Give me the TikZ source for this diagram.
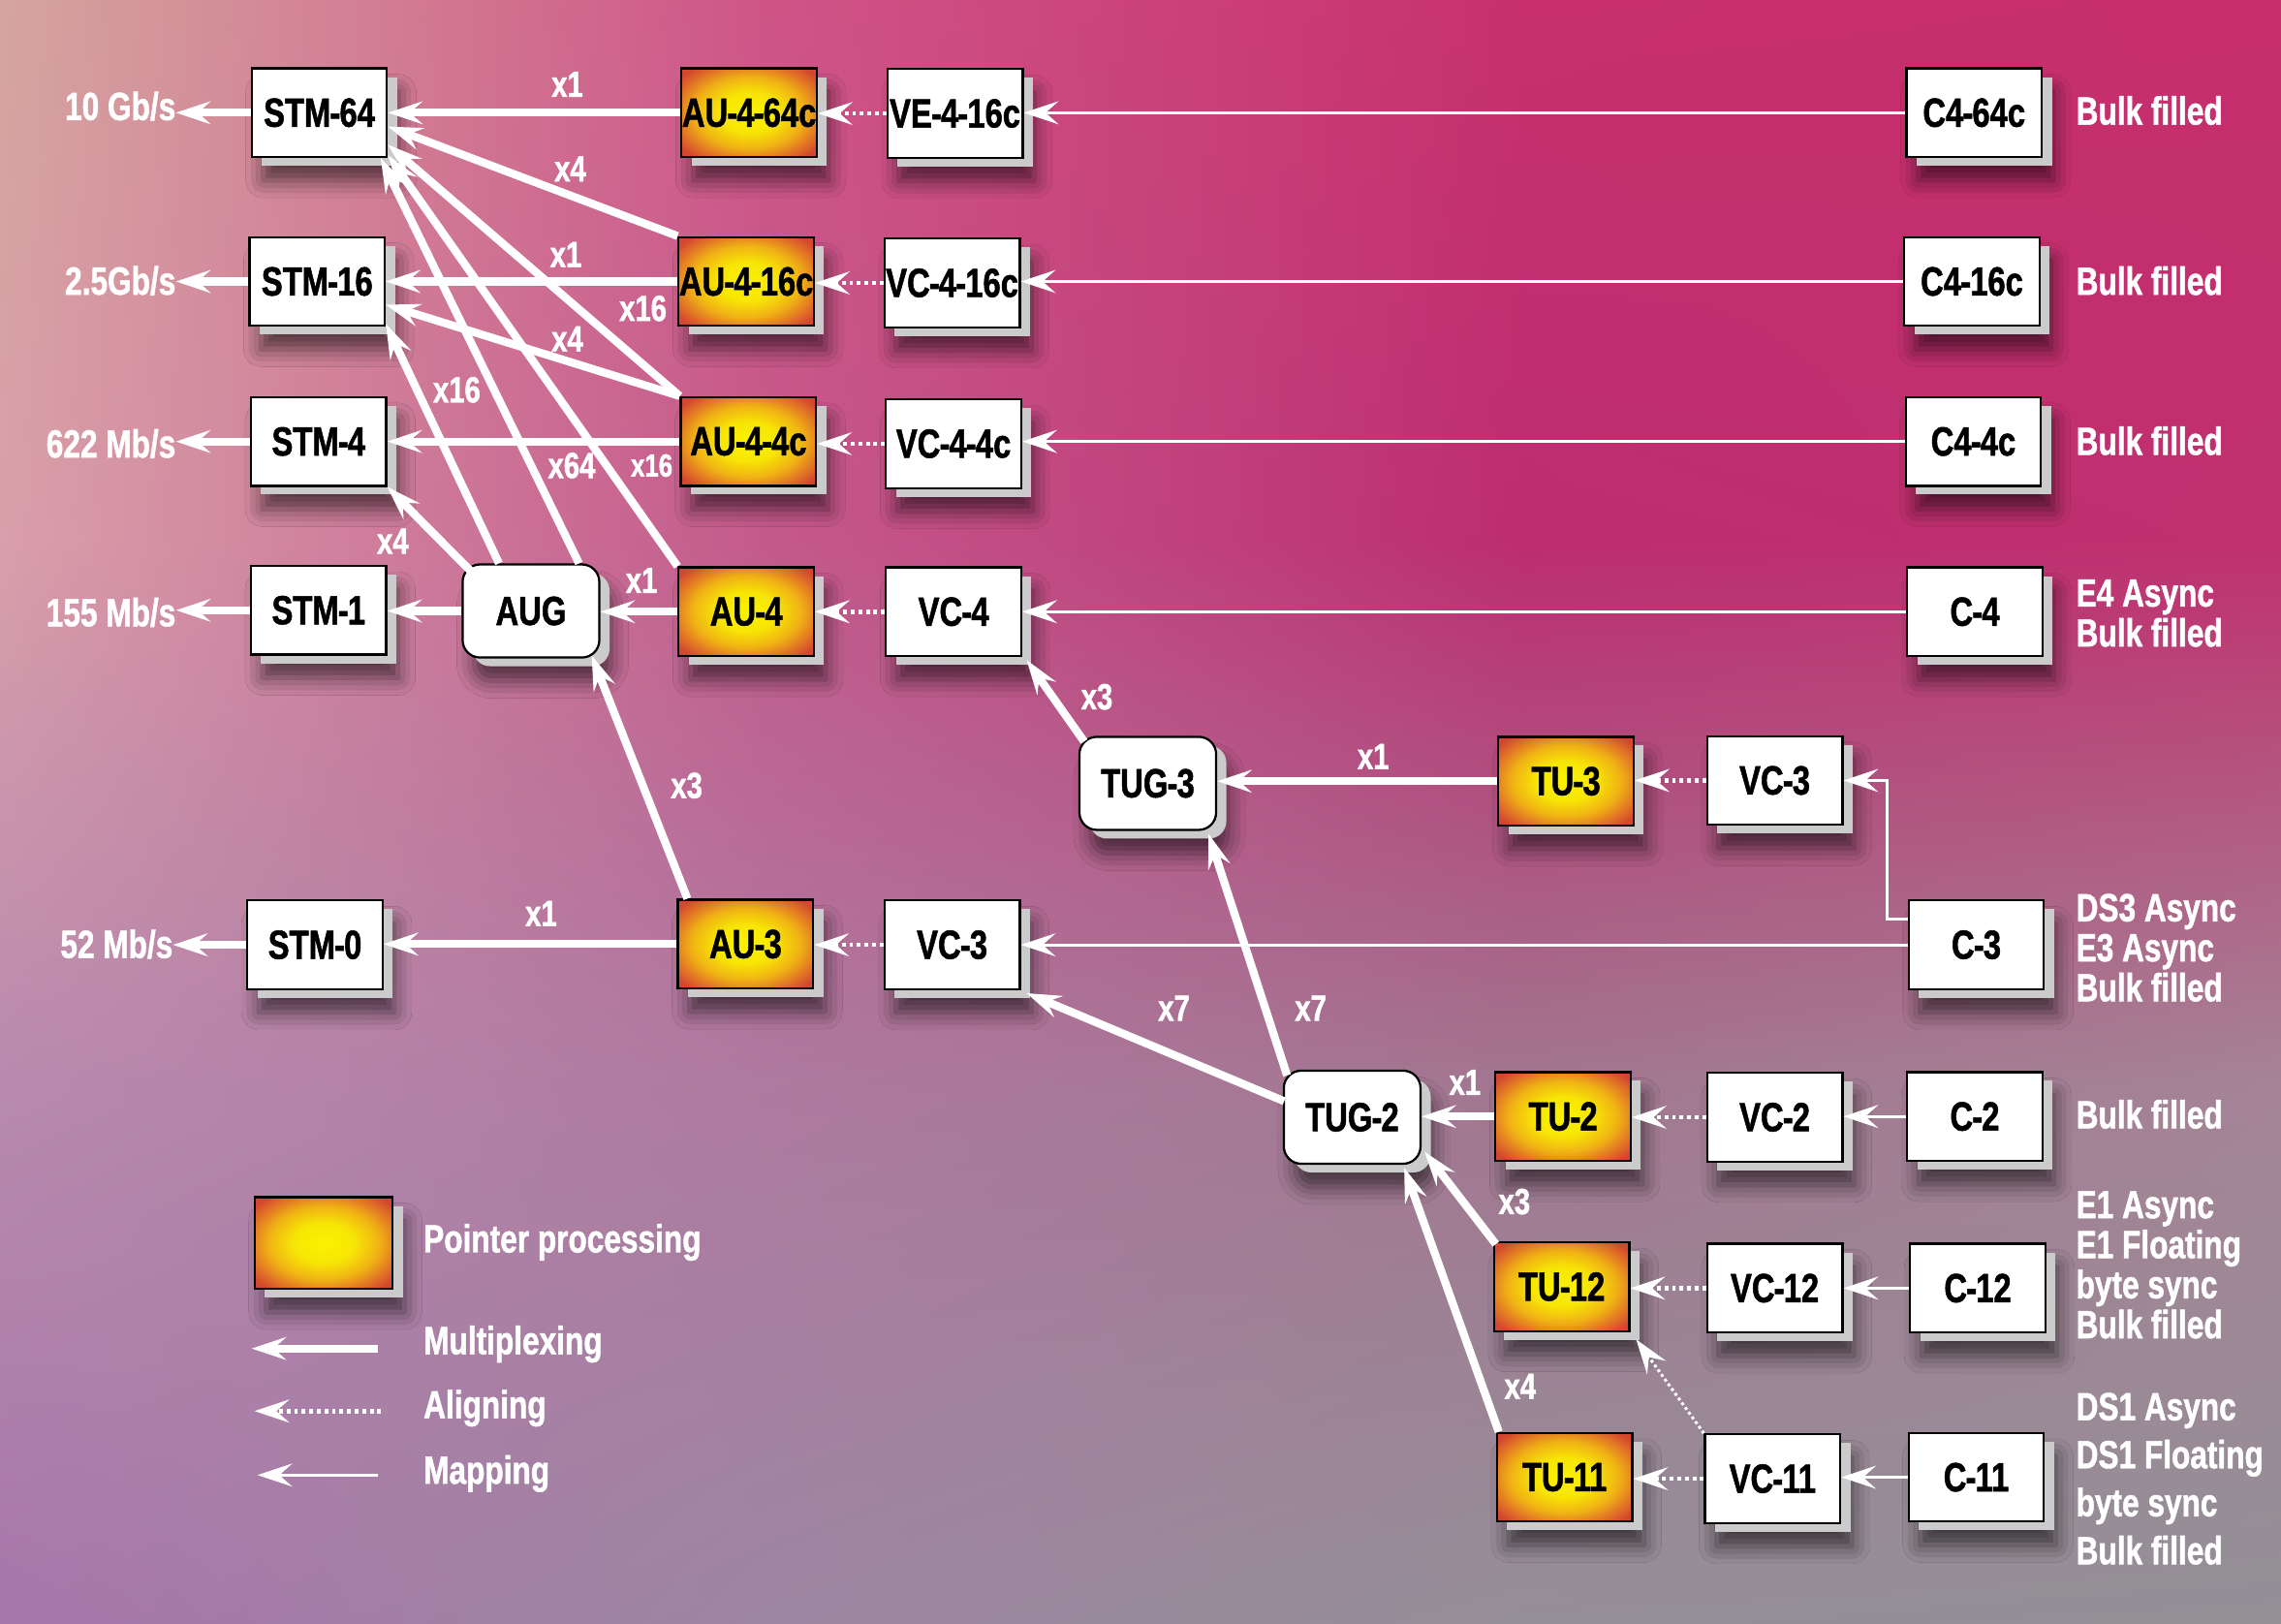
\documentclass[tikz,border=0pt]{standalone}
\usepackage{fontspec}
\newfontfamily\cond[FakeStretch=0.78,BoldFeatures={FakeBold=1.2}]{Liberation Sans}
\usetikzlibrary{arrows.meta,calc,shadings,shadows,shadows.blur}
\newcommand\bxf{\cond\bfseries\fontsize{28}{30}\selectfont}
\newcommand\lblf{\cond\bfseries\fontsize{27}{27.5}\selectfont}
\newcommand\lblwf{\cond\bfseries\fontsize{27}{33}\selectfont}
\newcommand\mulf{\cond\bfseries\fontsize{25}{27}\selectfont}
\newcommand\mulsf{\cond\bfseries\fontsize{22}{24}\selectfont}
\newcommand\hy{\kern-0.6pt-\kern-0.6pt}
\definecolor{shgray}{HTML}{CBCBCB}
\definecolor{ca0}{HTML}{D5A59E}\definecolor{cb0}{HTML}{CF5587}\definecolor{cc0}{HTML}{C8306E}\definecolor{cd0}{HTML}{C62E6C}
\definecolor{ca1}{HTML}{D99FAA}\definecolor{cb1}{HTML}{C45A8C}\definecolor{cc1}{HTML}{BC2D70}\definecolor{cd1}{HTML}{C0306F}
\definecolor{ca2}{HTML}{B98AAE}\definecolor{cb2}{HTML}{AE7A9F}\definecolor{cc2}{HTML}{A27690}\definecolor{cd2}{HTML}{A58496}
\definecolor{ca3}{HTML}{A776AA}\definecolor{cb3}{HTML}{9D86A2}\definecolor{cc3}{HTML}{958F98}\definecolor{cd3}{HTML}{939096}
\pgfdeclareradialshading{ptrshade}{\pgfpointorigin}{rgb(0bp)=(0.98,0.95,0.0); rgb(11bp)=(0.97,0.90,0.02); rgb(20bp)=(0.94,0.70,0.08); rgb(27bp)=(0.88,0.45,0.15); rgb(32bp)=(0.83,0.28,0.18); rgb(50bp)=(0.82,0.25,0.18)}
\newcommand\bgcell[8]{\shade[upper left=#5,upper right=#6,lower left=#7,lower right=#8] (#1-0.6,#2-0.6) rectangle (#3+0.6,#4+0.6);}
\tikzset{
  shad/.style={blur shadow={shadow xshift=8pt,shadow yshift=-16pt,shadow blur radius=12pt,shadow opacity=60},
               drop shadow={shadow xshift=7pt,shadow yshift=-6pt,fill=shgray,opacity=1}},
  box/.style={shad, draw=black, line width=1.5pt, fill=white, minimum width=93pt, minimum height=61pt, inner sep=0pt, font=\bxf, text=black},
  ptr/.style={shad, draw=black, line width=1.5pt, shade, shading=ptrshade, minimum width=93pt, minimum height=61pt, inner sep=0pt, font=\bxf, text=black},
  rbox/.style={box, rounded corners=12pt, minimum width=94pt, minimum height=64pt},
  mux/.style={draw=white, line width=5.5pt, ->},
  mapx/.style={draw=white, line width=2pt, ->},
  alg/.style={draw=white, line width=3pt, dash pattern=on 2.6pt off 2.6pt, ->},
  algthin/.style={draw=white, line width=2pt, dash pattern=on 2pt off 2pt, ->},
  mult/.style={text=white, font=\mulf, inner sep=0pt},
  mults/.style={text=white, font=\mulsf, inner sep=0pt},
  lbl/.style={text=white, font=\lblf, inner sep=0pt, align=left, anchor=west},
  rate/.style={text=white, font=\lblf, inner sep=0pt, anchor=east}
}
\begin{document}
\begin{tikzpicture}[x=1pt,y=-1pt,>={Stealth[length=24pt,width=16pt,inset=9pt,line width=0pt]}]
\useasboundingbox (0,0) rectangle (1568,1116);
% background
\bgcell{0}{0}{523}{372}{ca0}{cb0}{ca1}{cb1}
\bgcell{523}{0}{1045}{372}{cb0}{cc0}{cb1}{cc1}
\bgcell{1045}{0}{1568}{372}{cc0}{cd0}{cc1}{cd1}
\bgcell{0}{372}{523}{744}{ca1}{cb1}{ca2}{cb2}
\bgcell{523}{372}{1045}{744}{cb1}{cc1}{cb2}{cc2}
\bgcell{1045}{372}{1568}{744}{cc1}{cd1}{cc2}{cd2}
\bgcell{0}{744}{523}{1116}{ca2}{cb2}{ca3}{cb3}
\bgcell{523}{744}{1045}{1116}{cb2}{cc2}{cb3}{cc3}
\bgcell{1045}{744}{1568}{1116}{cc2}{cd2}{cc3}{cd3}

% STM column
\node[box] (stm64) at (219.5,77.5) {STM\hy64};
\node[box] (stm16) at (218,193.5) {STM\hy16};
\node[box] (stm4) at (219,303.5) {STM\hy4};
\node[box] (stm1) at (219,419.5) {STM\hy1};
\node[box] (stm0) at (216.5,649.5) {STM\hy0};
\node[rbox] (aug) at (365,420) {AUG};
% AU column
\node[ptr] (au464) at (515,77.5) {AU\hy4\hy64c};
\node[ptr] (au416) at (513,193.5) {AU\hy4\hy16c};
\node[ptr] (au44) at (514.5,303.5) {AU\hy4\hy4c};
\node[ptr] (au4) at (513,420.5) {AU\hy4};
\node[ptr] (au3) at (512.5,649) {AU\hy3};
% VC column
\node[box] (ve416) at (656.5,78) {VE\hy4\hy16c};
\node[box] (vc416) at (654.5,194.5) {VC\hy4\hy16c};
\node[box] (vc44) at (655.5,305) {VC\hy4\hy4c};
\node[box] (vc4) at (655.5,420.5) {VC\hy4};
\node[box] (vc3b) at (654.5,649.5) {VC\hy3};
% TUG / TU
\node[rbox] (tug3) at (789,538.5) {TUG\hy3};
\node[ptr] (tu3) at (1076.5,537) {TU\hy3};
\node[box] (vc3a) at (1220,536.5) {VC\hy3};
\node[rbox] (tug2) at (929.5,768) {TUG\hy2};
\node[ptr] (tu2) at (1074.5,767.5) {TU\hy2};
\node[box] (vc2) at (1220,768) {VC\hy2};
\node[ptr] (tu12) at (1073.5,884.5) {TU\hy12};
\node[box] (vc12) at (1220,885.5) {VC\hy12};
\node[ptr] (tu11) at (1075.5,1015.5) {TU\hy11};
\node[box] (vc11) at (1218.5,1016.5) {VC\hy11};
% C column
\node[box] (c464) at (1357,77.5) {C4\hy64c};
\node[box] (c416) at (1355.5,193.5) {C4\hy16c};
\node[box] (c44) at (1356.5,303.5) {C4\hy4c};
\node[box] (c4) at (1357.5,420.5) {C\hy4};
\node[box] (c3) at (1358.5,649.5) {C\hy3};
\node[box] (c2) at (1357.5,767.5) {C\hy2};
\node[box] (c12) at (1359.5,885.5) {C\hy12};
\node[box] (c11) at (1358.5,1015.5) {C\hy11};
% legend box
\node[ptr, minimum width=95pt, minimum height=63pt] (leg) at (222.5,854.5) {};

% rate labels
\node[rate] (r64) at (121,73) {10 Gb/s};
\node[rate] (r16) at (121,193) {2.5Gb/s};
\node[rate] (r4) at (121,305) {622 Mb/s};
\node[rate] (r1) at (121,421) {155 Mb/s};
\node[rate] (r0) at (119,649) {52 Mb/s};
\draw[mux] (stm64.west) -- (stm64.west -| r64.east);
\draw[mux] (stm16.west) -- (stm16.west -| r16.east);
\draw[mux] (stm4.west) -- (stm4.west -| r4.east);
\draw[mux] (stm1.west) -- (stm1.west -| r1.east);
\draw[mux] (stm0.west) -- (stm0.west -| r0.east);

% right labels
\node[lbl] (l464) at (1427,76) {Bulk filled};
\node[lbl] (l416) at (1427,193) {Bulk filled};
\node[lbl] (l44) at (1427,303) {Bulk filled};
\node[lbl] (l4) at (1427,421.5) {E4 Async\\Bulk filled};
\node[lbl] (l3) at (1427,651.5) {DS3 Async\\E3 Async\\Bulk filled};
\node[lbl] (l2) at (1427,766) {Bulk filled};
\node[lbl] (l12) at (1427,869.5) {E1 Async\\E1 Floating\\byte sync\\Bulk filled};
\node[lbl, font=\lblwf] (l11) at (1427,1016.5) {DS1 Async\\DS1 Floating\\byte sync\\Bulk filled};

% multiplexing connectors
\draw[mux] (au464.west) -- (au464.west -| stm64.east);
\draw[mux] (au416.north west) -- ($(stm64.east)+(0,9.5)$);
\draw[mux] (au416.west) -- (au416.west -| stm16.east);
\draw[mux] (au44.north west) -- ($(stm64.east)+(0,22)$);
\draw[mux] (au44.north west) -- ($(stm16.east)+(0,16)$);
\draw[mux] (au44.west) -- (au44.west -| stm4.east);
\draw[mux] (au4.north west) -- ($(stm64.south east)+(0,-2)$);
\draw[mux] ($(aug.north)+(33,0)$) -- ($(stm64.south east)+(-5,0)$);
\draw[mux] ($(aug.north)+(-22,0)$) -- ($(stm16.south east)+(0,-2)$);
\draw[mux] ($(aug.north west)+(6,5)$) -- (stm4.south east);
\draw[mux] (au4.west) -- (au4.west -| aug.east);
\draw[mux] (aug.west) -- (aug.west -| stm1.east);
\draw[mux] ($(au3.north)+(-40,0)$) -- ($(aug.south east)+(-6,-2)$);
\draw[mux] (au3.west) -- (au3.west -| stm0.east);
\draw[mux] ($(tug3.north west)+(4,4)$) -- ($(vc4.south east)+(3,2)$);
\draw[mux] (tu3.west) -- (tu3.west -| tug3.east);
\draw[mux] ($(tug2.north west)+(3,4)$) -- ($(tug3.south east)+(-6,2)$);
\draw[mux] ($(tug2.west)+(1,-11)$) -- ($(vc3b.south east)+(4,2)$);
\draw[mux] (tu2.west) -- (tu2.west -| tug2.east);
\draw[mux] ($(tu12.north west)+(2,2)$) -- ($(tug2.south east)+(2,-9)$);
\draw[mux] ($(tu11.north west)+(2,0)$) -- ($(tug2.south east)+(-12,2)$);

% aligning connectors
\draw[alg] (ve416.west) -- (ve416.west -| au464.east);
\draw[alg] (vc416.west) -- (vc416.west -| au416.east);
\draw[alg] (vc44.west) -- (vc44.west -| au44.east);
\draw[alg] (vc4.west) -- (vc4.west -| au4.east);
\draw[alg] (vc3b.west) -- (vc3b.west -| au3.east);
\draw[alg] (vc3a.west) -- (vc3a.west -| tu3.east);
\draw[alg] (vc2.west) -- (vc2.west -| tu2.east);
\draw[alg] (vc12.west) -- (vc12.west -| tu12.east);
\draw[alg] (vc11.west) -- (vc11.west -| tu11.east);
\draw[algthin] (vc11.north west) -- ($(tu12.south east)+(4,5)$);

% mapping connectors
\draw[mapx] (c464.west) -- (c464.west -| ve416.east);
\draw[mapx] (c416.west) -- (c416.west -| vc416.east);
\draw[mapx] (c44.west) -- (c44.west -| vc44.east);
\draw[mapx] (c4.west) -- (c4.west -| vc4.east);
\draw[mapx] (c3.west) -- (c3.west -| vc3b.east);
\draw[mapx] ($(c3.west)+(0,-17.5)$) -| ($(vc3a.east)+(30,0)$) -- (vc3a.east);
\draw[mapx] (c2.west) -- (c2.west -| vc2.east);
\draw[mapx] (c12.west) -- (c12.west -| vc12.east);
\draw[mapx] (c11.west) -- (c11.west -| vc11.east);

% multiplier labels
\node[mult] (m1) at (390,58) {x1};
\node[mult] (m2) at (392,116) {x4};
\node[mult] (m3) at (389,175) {x1};
\node[mult] (m4) at (442,212) {x16};
\node[mult] (m5) at (390,233) {x4};
\node[mult] (m6) at (314,268) {x16};
\node[mult] (m7) at (393,320) {x64};
\node[mults] (m8) at (448,320) {x16};
\node[mult] (m9) at (270,372) {x4};
\node[mult] (m10) at (441,399) {x1};
\node[mult] (m11) at (472,540) {x3};
\node[mult] (m12) at (372,628) {x1};
\node[mult] (m13) at (754,479) {x3};
\node[mult] (m14) at (944,520) {x1};
\node[mult] (m15) at (807,693) {x7};
\node[mult] (m16) at (901,693) {x7};
\node[mult] (m17) at (1007,744) {x1};
\node[mult] (m18) at (1041,826) {x3};
\node[mult] (m19) at (1045,953) {x4};

% legend
\coordinate (lma) at (260,927); \coordinate (lmb) at (173,927);
\coordinate (laa) at (262,970); \coordinate (lab) at (175,970);
\coordinate (lpa) at (260,1014); \coordinate (lpb) at (177,1014);
\draw[mux] (lma) -- (lmb);
\draw[alg] (laa) -- (lab);
\draw[mapx] (lpa) -- (lpb);
\node[lbl] (t1) at (291,854) {Pointer processing};
\node[lbl] (t2) at (291,924) {Multiplexing};
\node[lbl] (t3) at (291,968) {Aligning};
\node[lbl] (t4) at (291,1013) {Mapping};
\end{tikzpicture}
\end{document}
